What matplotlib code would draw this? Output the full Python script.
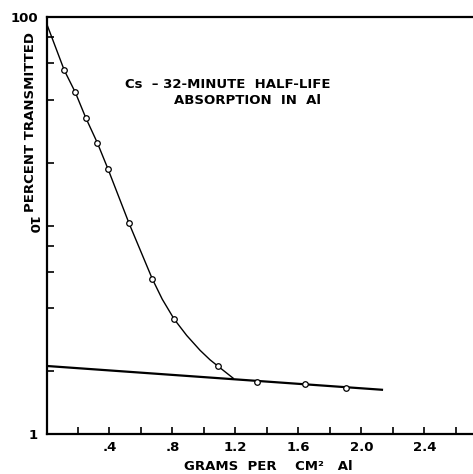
''' Cs 32-minute half-life: absorption in Al '''
import numpy as np
import matplotlib.pyplot as plt
from matplotlib.ticker import FixedLocator, NullFormatter

# punti misurati (cerchietti)
pts_x = [0.113, 0.183, 0.249, 0.323, 0.390, 0.524, 0.672, 0.810, 1.087,
         1.338, 1.641, 1.901]
pts_y = [55.5, 43.5, 32.9, 24.9, 18.7, 10.25, 5.54, 3.56, 2.12,
         1.78, 1.74, 1.66]

# curva disegnata a mano
curve_x = [0.0, 0.113, 0.183, 0.249, 0.323, 0.390, 0.524, 0.672, 0.735,
           0.810, 0.890, 0.975, 1.038, 1.087, 1.186]
curve_y = [93.3, 55.5, 43.5, 32.9, 24.9, 18.7, 10.25, 5.54, 4.43,
           3.56, 2.97, 2.52, 2.27, 2.12, 1.85]

# retta della componente lenta
line_x = [0.0, 2.13]
line_y = [2.12, 1.63]

xticks = [0.4, 0.8, 1.2, 1.6, 2.0, 2.4]
xticklabels = ['.4', '.8', '1.2', '1.6', '2.0', '2.4']

fig = plt.figure(figsize=(4.73, 4.74), dpi=100)
ax = fig.add_axes([46.5/473, 1-434/474, 1-46.5/473, (434-17)/474])

ax.plot(curve_x, curve_y, color='black', lw=1.0)
ax.plot(line_x, line_y, color='black', lw=1.6)
ax.plot(pts_x, pts_y, ls='none', marker='o', ms=4, mfc='white',
        mec='black', mew=0.9)

ax.set_yscale('log')
ax.set_ylim(1, 100)
ax.set_xlim(0, 2.708)

ax.spines['right'].set_visible(False)
for s in ['left', 'bottom', 'top']:
    ax.spines[s].set_linewidth(1.6)

ax.set_xticks(xticks)
ax.set_xticklabels(xticklabels, fontsize=9.5, fontweight='bold')
ax.xaxis.set_minor_locator(FixedLocator([0.2, 0.6, 1.0, 1.4, 1.8, 2.2, 2.6]))
ax.tick_params(axis='x', which='both', direction='in', length=5, width=1.2,
               pad=5, top=False)

ax.set_yticks([1, 10, 100])
ax.set_yticklabels(['1', '10', '100'], fontsize=9.5, fontweight='bold')
ax.yaxis.set_minor_locator(FixedLocator([2, 4, 6, 8, 20, 40, 60, 80]))
ax.yaxis.set_minor_formatter(NullFormatter())
ax.tick_params(axis='y', which='both', direction='in', length=5, width=1.2,
               pad=6)
lab10 = ax.get_yticklabels()[1]
lab10.set_rotation(270)
lab10.set_va('center')

fig.text(31/473, 1-122/474, 'PERCENT TRANSMITTED', rotation=90,
         ha='center', va='center', fontsize=9.5, fontweight='bold')
fig.text(268/473, 1-467/474, 'GRAMS  PER    CM\u00b2   Al',
         ha='center', va='center', fontsize=9.5, fontweight='bold')

fig.text(125/473, 1-84/474, 'Cs  \u2013 32-MINUTE  HALF-LIFE',
         ha='left', va='center', fontsize=9.5, fontweight='bold')
fig.text(174/473, 1-101/474, 'ABSORPTION  IN  Al',
         ha='left', va='center', fontsize=9.5, fontweight='bold')

plt.savefig('out.png', dpi=100)
